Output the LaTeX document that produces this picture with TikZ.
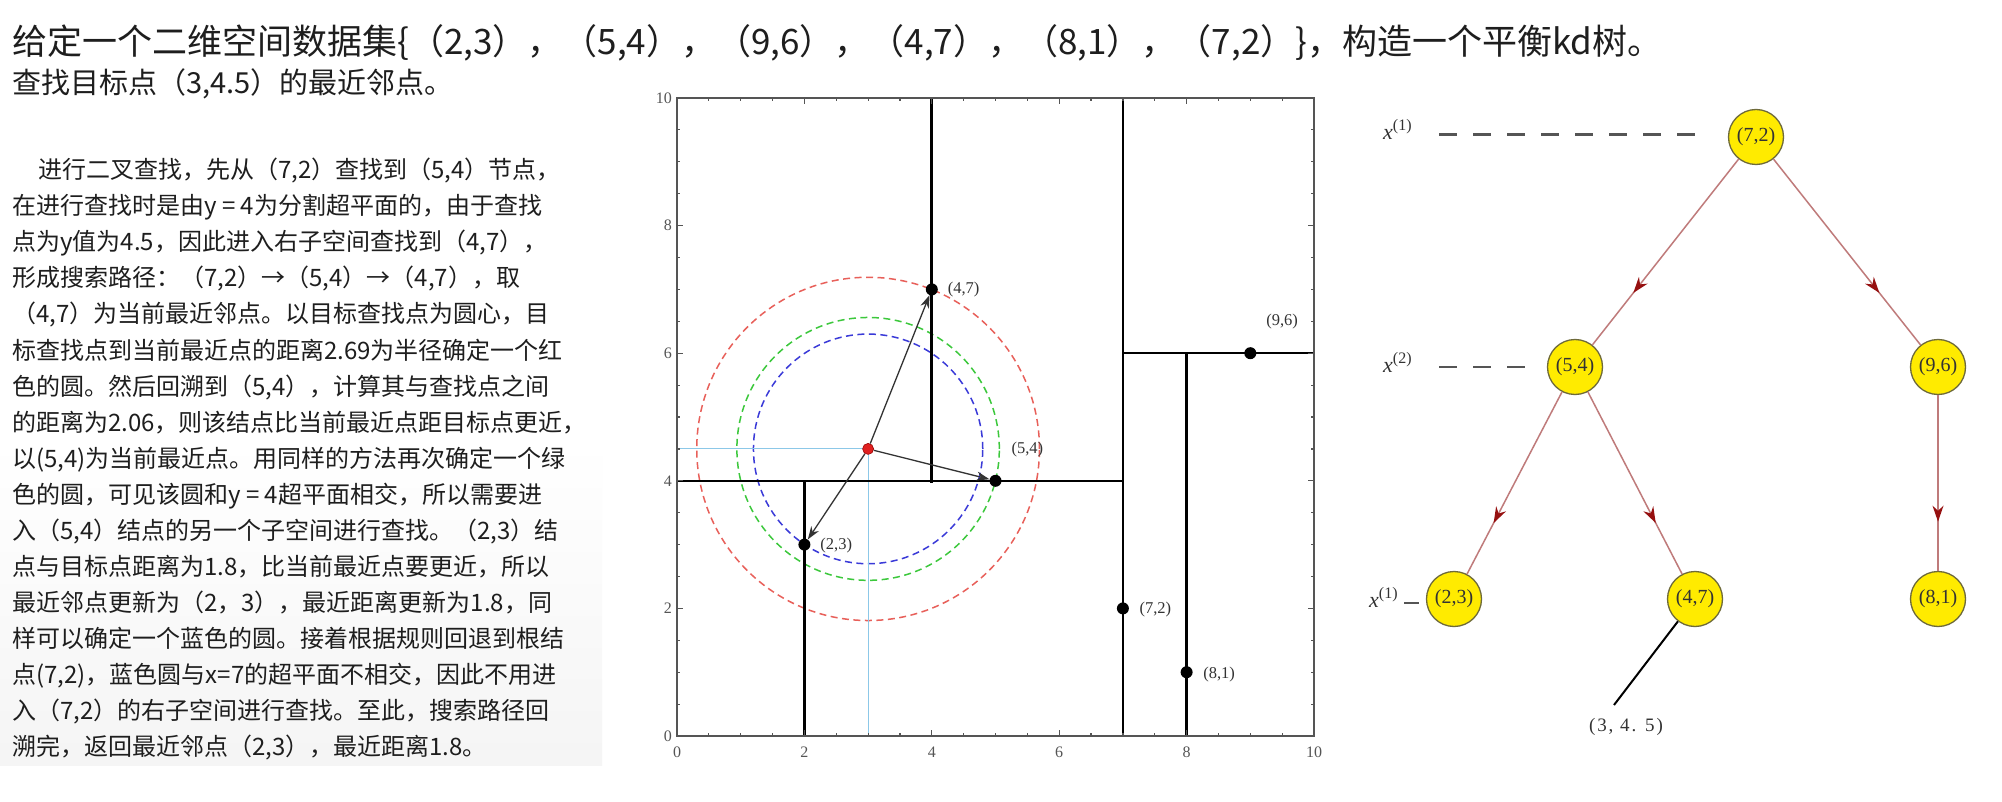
\documentclass[tikz,border=0pt]{standalone}
\usepackage{fontspec}
\setmainfont{Noto Sans CJK SC}
\newfontfamily\serifnum{Liberation Serif}
\newfontfamily\spacedserif{Liberation Serif}[LetterSpace=10]
\usetikzlibrary{arrows.meta,decorations.markings,calc}

\definecolor{txt}{HTML}{1E1E1E}
\definecolor{axisgray}{HTML}{555555}
\definecolor{cred}{HTML}{E8605A}
\definecolor{cgreen}{HTML}{3CC83C}
\definecolor{cblue}{HTML}{3A3AD8}
\definecolor{lblue}{HTML}{8CC8E8}
\definecolor{tgred}{HTML}{E02020}
\definecolor{nodeyellow}{HTML}{FFEB00}
\definecolor{nodeborder}{HTML}{6E6A3A}
\definecolor{edgerose}{HTML}{BF7B7B}
\definecolor{tipred}{HTML}{961010}
\definecolor{lbl}{HTML}{333333}

\begin{document}
\begin{tikzpicture}[x=1pt,y=-1pt,
  titletext/.style={anchor=base west, inner sep=0pt, text=txt, font=\fontsize{35}{40}\selectfont},
  subtext/.style={anchor=base west, inner sep=0pt, text=txt, font=\fontsize{29}{32}\selectfont},
  paratext/.style={anchor=base west, inner sep=0pt, text=txt, font=\fontsize{24}{28}\selectfont},
  ticklab/.style={inner sep=0pt, text=axisgray, font=\serifnum\fontsize{16}{18}\selectfont},
  plab/.style={inner sep=0pt, text=lbl, font=\serifnum\fontsize{16.5}{18}\selectfont},
  pdot/.style={circle, fill=black, inner sep=0pt, minimum size=12pt},
  tdot/.style={circle, fill=tgred, draw=red!60!black, line width=0.6pt, inner sep=0pt, minimum size=11pt},
  splitline/.style={line width=2.8pt, black},
  ringline/.style={line width=1.5pt, dash pattern=on 7pt off 4.5pt},
  parr/.style={draw=lbl, line width=1.3pt, -{Stealth[length=13pt,width=9pt]}},
  tnode/.style={circle, fill=nodeyellow, draw=nodeborder, line width=1.3pt, minimum size=55pt, inner sep=0pt, text=lbl, font=\serifnum\fontsize{20}{20}\selectfont},
  tedge/.style={draw=edgerose, line width=1.5pt, postaction={decorate},
     decoration={markings, mark=at position 0.72 with {\arrow{Stealth[length=16pt,width=11pt,color=tipred]}}}},
  lvlab/.style={anchor=base west, inner sep=0pt, text=lbl, font=\serifnum\fontsize{22}{24}\selectfont\itshape},
  lvline/.style={draw=axisgray, line width=2.2pt, dash pattern=on 18pt off 16pt}
]
\useasboundingbox (0,0) rectangle (2002,802);
\fill[white] (0,0) rectangle (2002,802);
\shade[top color=white, bottom color=black!4] (0,440) rectangle (602,765);

% ---------- title and text ----------
\node[titletext] (title) at (12,55) {给定一个二维空间数据集\{（2,3），（5,4），（9,6），（4,7），（8,1），（7,2）\}，构造一个平衡kd树。};
\node[subtext] (sub) at (12,94) {查找目标点（3,4.5）的最近邻点。};

\node[paratext] (l1) at (38,179) {进行二叉查找，先从（7,2）查找到（5,4）节点，};
\node[paratext] (l2) at (12,215) {在进行查找时是由y = 4为分割超平面的，由于查找};
\node[paratext] (l3) at (12,251) {点为y值为4.5，因此进入右子空间查找到（4,7），};
\node[paratext] (l4) at (12,287) {形成搜索路径：（7,2）→（5,4）→（4,7），取};
\node[paratext] (l5) at (12,323) {（4,7）为当前最近邻点。以目标查找点为圆心，目};
\node[paratext] (l6) at (12,359) {标查找点到当前最近点的距离2.69为半径确定一个红};
\node[paratext] (l7) at (12,395) {色的圆。然后回溯到（5,4），计算其与查找点之间};
\node[paratext] (l8) at (12,431) {的距离为2.06，则该结点比当前最近点距目标点更近，};
\node[paratext] (l9) at (12,467) {以(5,4)为当前最近点。用同样的方法再次确定一个绿};
\node[paratext] (l10) at (12,503) {色的圆，可见该圆和y = 4超平面相交，所以需要进};
\node[paratext] (l11) at (12,539) {入（5,4）结点的另一个子空间进行查找。（2,3）结};
\node[paratext] (l12) at (12,575) {点与目标点距离为1.8，比当前最近点要更近，所以};
\node[paratext] (l13) at (12,611) {最近邻点更新为（2，3），最近距离更新为1.8，同};
\node[paratext] (l14) at (12,647) {样可以确定一个蓝色的圆。接着根据规则回退到根结};
\node[paratext] (l15) at (12,683) {点(7,2)，蓝色圆与x=7的超平面不相交，因此不用进};
\node[paratext] (l16) at (12,719) {入（7,2）的右子空间进行查找。至此，搜索路径回};
\node[paratext] (l17) at (12,755) {溯完，返回最近邻点（2,3），最近距离1.8。};

% ---------- plot ----------
\begin{scope}[shift={(677pt,-736pt)}, x=63.7pt, y=63.8pt]
  % circles
  \draw[ringline, cred] (3,4.5) circle[radius=2.69];
  \draw[ringline, cgreen] (3,4.5) circle[radius=2.06];
  \draw[ringline, cblue] (3,4.5) circle[radius=1.8];
  % guide lines
  \draw[lblue, line width=0.9pt] (0,4.5) -- (3,4.5) -- (3,0);
  % split lines
  \draw[splitline, line width=2pt] (7,0) -- (7,10);
  \draw[splitline, line width=1.6pt] (0,4) -- (7,4);
  \draw[splitline] (4,3.97) -- (4,10);
  \draw[splitline] (2,0) -- (2,4);
  \draw[splitline, line width=2pt] (7,6) -- (10,6);
  \draw[splitline] (8,0) -- (8,6);
  % frame and ticks
  \draw[axisgray, line width=1.8pt] (0,0) rectangle (10,10);
  \foreach \v in {0.5,1,...,9.5} {
    \draw[axisgray, line width=1.2pt] (\v,0) -- ++(0,3pt);
    \draw[axisgray, line width=1.2pt] (\v,10) -- ++(0,-3pt);
    \draw[axisgray, line width=1.2pt] (0,\v) -- ++(3pt,0);
    \draw[axisgray, line width=1.2pt] (10,\v) -- ++(-3pt,0);
  }
  \foreach \v in {2,4,6,8} {
    \draw[axisgray, line width=1.2pt] (\v,0) -- ++(0,6pt);
    \draw[axisgray, line width=1.2pt] (\v,10) -- ++(0,-6pt);
    \draw[axisgray, line width=1.2pt] (0,\v) -- ++(6pt,0);
    \draw[axisgray, line width=1.2pt] (10,\v) -- ++(-6pt,0);
  }
  \foreach \v in {0,2,4,6,8,10} {
    \node[ticklab, anchor=center, yshift=-16pt] (bx\v) at (\v,0) {\v};
    \node[ticklab, anchor=east, xshift=-5pt] (ly\v) at (0,\v) {\v};
  }
  % points
  \node[pdot] (p23) at (2,3) {};
  \node[pdot] (p54) at (5,4) {};
  \node[pdot] (p96) at (9,6) {};
  \node[pdot] (p47) at (4,7) {};
  \node[pdot] (p81) at (8,1) {};
  \node[pdot] (p72) at (7,2) {};
  \node[tdot] (tg) at (3,4.5) {};
  % arrows
  \draw[parr] (tg) -- (p47);
  \draw[parr] (tg) -- (p54);
  \draw[parr] (tg) -- (p23);
  % labels
  \node[plab] (t47) at (4.5,7.0) {(4,7)};
  \node[plab] (t96) at (9.5,6.49) {(9,6)};
  \node[plab] (t54) at (5.5,4.49) {(5,4)};
  \node[plab] (t23) at (2.5,2.98) {(2,3)};
  \node[plab] (t72) at (7.51,1.99) {(7,2)};
  \node[plab] (t81) at (8.51,0.97) {(8,1)};
\end{scope}

% ---------- tree ----------
\node[tnode] (n72) at (1756,137) {(7,2)};
\node[tnode] (n54) at (1575,367) {(5,4)};
\node[tnode] (n96) at (1938,367) {(9,6)};
\node[tnode] (n23) at (1454,599) {(2,3)};
\node[tnode] (n47) at (1695,599) {(4,7)};
\node[tnode] (n81) at (1938,599) {(8,1)};

\draw[tedge] (n72) -- (n54);
\draw[tedge] (n72) -- (n96);
\draw[tedge] (n54) -- (n23);
\draw[tedge] (n54) -- (n47);
\draw[tedge] (n96) -- (n81);

% level labels
\node[lvlab] (xa) at (1383,140) {x\raisebox{9pt}{\fontsize{16}{18}\selectfont\upshape(1)}};
\node[lvlab] (xb) at (1383,372) {x\raisebox{9pt}{\fontsize{16}{18}\selectfont\upshape(2)}};
\node[lvlab] (xc) at (1369,607) {x\raisebox{9pt}{\fontsize{16}{18}\selectfont\upshape(1)}};
\coordinate (da1) at (1439,134.5);
\coordinate (da2) at (1697,134.5);
\coordinate (db1) at (1439,366.6);
\coordinate (db2) at (1526,366.6);
\coordinate (dc1) at (1404,603);
\coordinate (dc2) at (1419,603);
\draw[lvline] (da1) -- (da2);
\draw[lvline] (db1) -- (db2);
\draw[draw=axisgray, line width=2.2pt] (dc1) -- (dc2);

% query pointer
\coordinate (q) at (1614,705);
\draw[black, line width=2pt] (n47) -- (q);
\node[inner sep=0pt, text=lbl, font=\spacedserif\fontsize{19}{20}\selectfont] (ql) at (1626,727) {(3, 4. 5)};
\end{tikzpicture}
\end{document}
